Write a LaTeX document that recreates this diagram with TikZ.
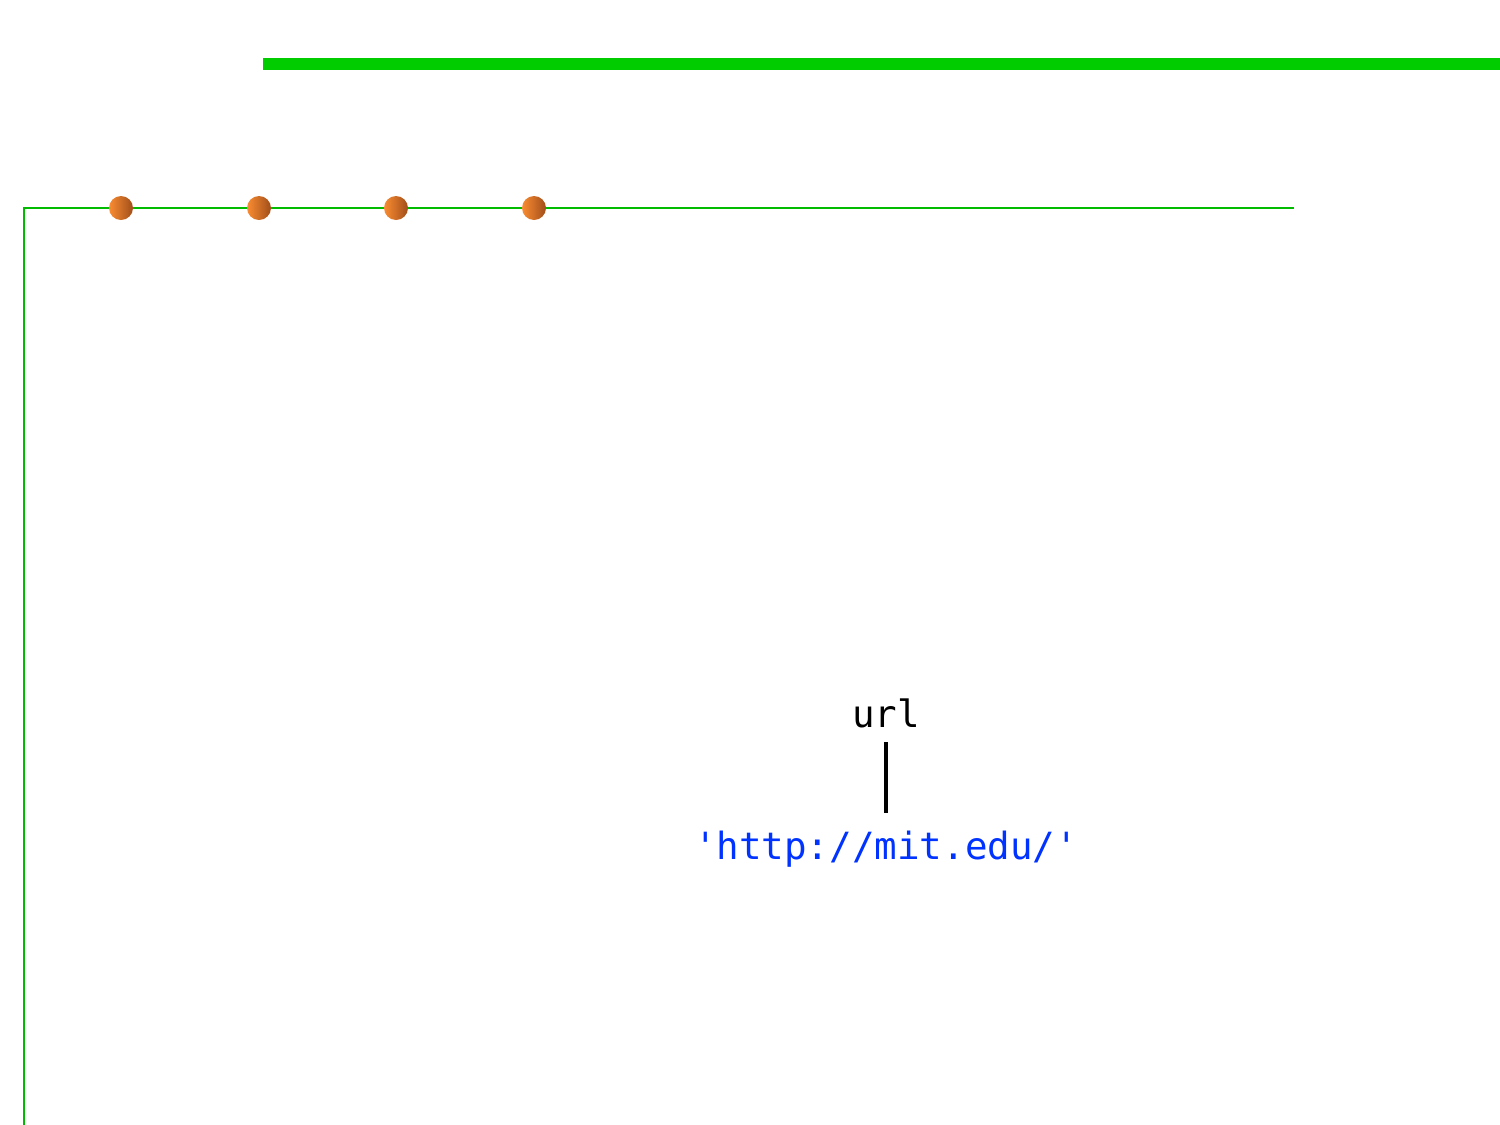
\documentclass[tikz,border=0pt]{standalone}
\usepackage{fontspec}
\newfontfamily\monofont{DejaVu Sans Mono}
\definecolor{barGreen}{HTML}{00CC00}
\definecolor{lineGreen}{HTML}{00BB00}
\definecolor{dotLeft}{HTML}{FA8C32}
\definecolor{dotRight}{HTML}{A04E1A}
\definecolor{strBlue}{HTML}{0033FF}
\tikzset{
  dot/.style={circle, inner sep=0pt, minimum size=24pt, left color=dotLeft, right color=dotRight, draw=none},
  lbl/.style={font=\monofont\fontsize{37.5}{40}\selectfont, inner sep=0pt, anchor=base},
}
\begin{document}
\begin{tikzpicture}[x=1pt,y=-1pt]
\useasboundingbox (0,0) rectangle (1500,1125);
\fill[barGreen] (263,58) rectangle (1500,70);
\coordinate (c0) at (24,1125);
\coordinate (c1) at (24,208);
\coordinate (c2) at (1294,208);
\draw[lineGreen, line width=2pt] (c0) -- (c1) -- (c2);
\node[dot] (d1) at (121,208) {};
\node[dot] (d2) at (259,208) {};
\node[dot] (d3) at (396,208) {};
\node[dot] (d4) at (534,208) {};
\node[lbl] (url) at (886,727) {url};
\node[lbl, text=strBlue] (val) at (886,859) {'http://mit.edu/'};
\coordinate (t) at (886,742);
\coordinate (b) at (886,813);
\draw[black, line width=3.5pt] (t) -- (b);
\end{tikzpicture}
\end{document}
